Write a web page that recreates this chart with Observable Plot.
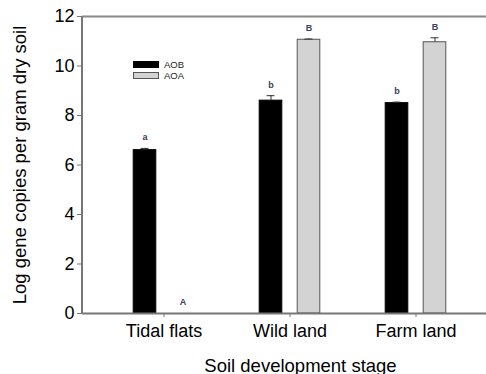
<!DOCTYPE html>
<html>
<head>
<meta charset="utf-8">
<script src="https://cdn.jsdelivr.net/npm/d3@7"></script>
<script src="https://cdn.jsdelivr.net/npm/@observablehq/plot@0.6"></script>
<style>
  html, body { margin: 0; padding: 0; background: #fff; }
  #wrap { position: relative; width: 486px; height: 374px; font-family: Arial, "Liberation Sans", sans-serif; }
  .legend { position: absolute; left: 133px; top: 59px; font-size: 9.5px; color: #222; line-height: 11px; }
  .legend div { display: flex; align-items: center; height: 11px; }
  .sw { display: inline-block; width: 26px; height: 7px; margin-right: 5px; box-sizing: border-box; }
</style>
</head>
<body>
<div id="wrap"></div>
<script>
const categories = ["Tidal flats", "Wild land", "Farm land"];
const seriesNames = ["AOB", "AOA"];
const aob = [6.60, 8.60, 8.50];
const aobErr = [0.07, 0.20, 0.04];
const aoa = [0, 11.06, 10.96];
const aoaErr = [0, 0.03, 0.18];
const aobLetters = ["a", "b", "b"];
const aoaLetters = ["A", "B", "B"];
const yTicks = [0, 2, 4, 6, 8, 10, 12];
const colors = {AOB: "#000000", AOA: "#d3d3d3"};
const strokes = {AOB: "#000000", AOA: "#555555"};

const rows = [];
categories.forEach((c, i) => {
  rows.push({cat: c, series: "AOB", value: aob[i], err: aobErr[i], letter: aobLetters[i]});
  rows.push({cat: c, series: "AOA", value: aoa[i], err: aoaErr[i], letter: aoaLetters[i]});
});
const dAOB = rows.filter(d => d.series === "AOB");
const dAOA = rows.filter(d => d.series === "AOA");

const off = 19;
const barInset = 45.2;
const capInset = 52.5;

function seriesMarks(data, s, dx) {
  const ms = [];
  ms.push(Plot.barY(data.filter(d => d.value > 0), {x: "cat", y: "value", fill: colors[s], stroke: strokes[s], strokeWidth: 1, dx, insetLeft: barInset, insetRight: barInset}));
  ms.push(Plot.ruleX(data.filter(d => d.err > 0), {x: "cat", y1: "value", y2: d => d.value + d.err, stroke: "#333", strokeWidth: 1, dx}));
  ms.push(Plot.tickY(data.filter(d => d.err > 0), {x: "cat", y: d => d.value + d.err, stroke: "#333", strokeWidth: 1, dx, insetLeft: capInset, insetRight: capInset}));
  ms.push(Plot.text(data, {x: "cat", y: d => d.value + d.err, text: "letter", dx, dy: -11, fill: "#3a4060", fontSize: 9, fontWeight: "bold"}));
  return ms;
}

const chart = Plot.plot({
  width: 486,
  height: 374,
  marginLeft: 82,
  marginRight: 0,
  marginTop: 16,
  marginBottom: 61,
  style: {fontFamily: "Arial, 'Liberation Sans', sans-serif", fontSize: "18px", color: "#000", background: "#fff"},
  x: {domain: categories, paddingInner: 0.1, paddingOuter: 0.153, align: 0.655, label: "Soil development stage", labelAnchor: "center", labelOffset: 58, tickSize: 4, tickPadding: 7},
  y: {domain: [0, 12], ticks: yTicks, label: "Log gene copies per gram dry soil", labelAnchor: "center", labelArrow: "none", labelOffset: 70, tickSize: 5, tickPadding: 3},
  marks: [
    ...seriesMarks(dAOB, "AOB", -off),
    ...seriesMarks(dAOA, "AOA", off),
    Plot.ruleY([0], {stroke: "#777", strokeWidth: 2}),
    Plot.ruleY([12], {stroke: "#888", strokeWidth: 2})
  ]
});

const wrap = document.getElementById("wrap");
wrap.appendChild(chart);
const svg = d3.select(chart);
function stripArrow(sel) {
  sel.each(function() {
    const t = d3.select(this);
    const s = t.text();
    if (/[↑→]/.test(s)) t.text(s.replace(/\s*[↑→]\s*/g, "").trim());
  });
}
stripArrow(svg.selectAll("tspan"));
stripArrow(svg.selectAll("text").filter(function() { return d3.select(this).select("tspan").empty(); }));
// axis titles slightly larger; x title shifted right as in the source figure
svg.selectAll("[aria-label='x-axis label'] text, [aria-label='y-axis label'] text").style("font-size", "18.5px");
svg.selectAll("[aria-label='x-axis label'] text").attr("dx", 16);

const yScale = chart.scale("y");
svg.append("line").attr("x1", 82).attr("x2", 82).attr("y1", yScale.apply(0)).attr("y2", yScale.apply(12)).attr("stroke", "#777").attr("stroke-width", 2);
svg.selectAll("[aria-label='y-axis tick'] path, [aria-label='x-axis tick'] path").attr("stroke", "#777");

const legend = document.createElement("div");
legend.className = "legend";
legend.innerHTML = seriesNames.map(s => `<div><span class="sw" style="background:${colors[s]};border:1px solid ${strokes[s]}"></span>${s}</div>`).join("");
wrap.appendChild(legend);
</script>
</body>
</html>
